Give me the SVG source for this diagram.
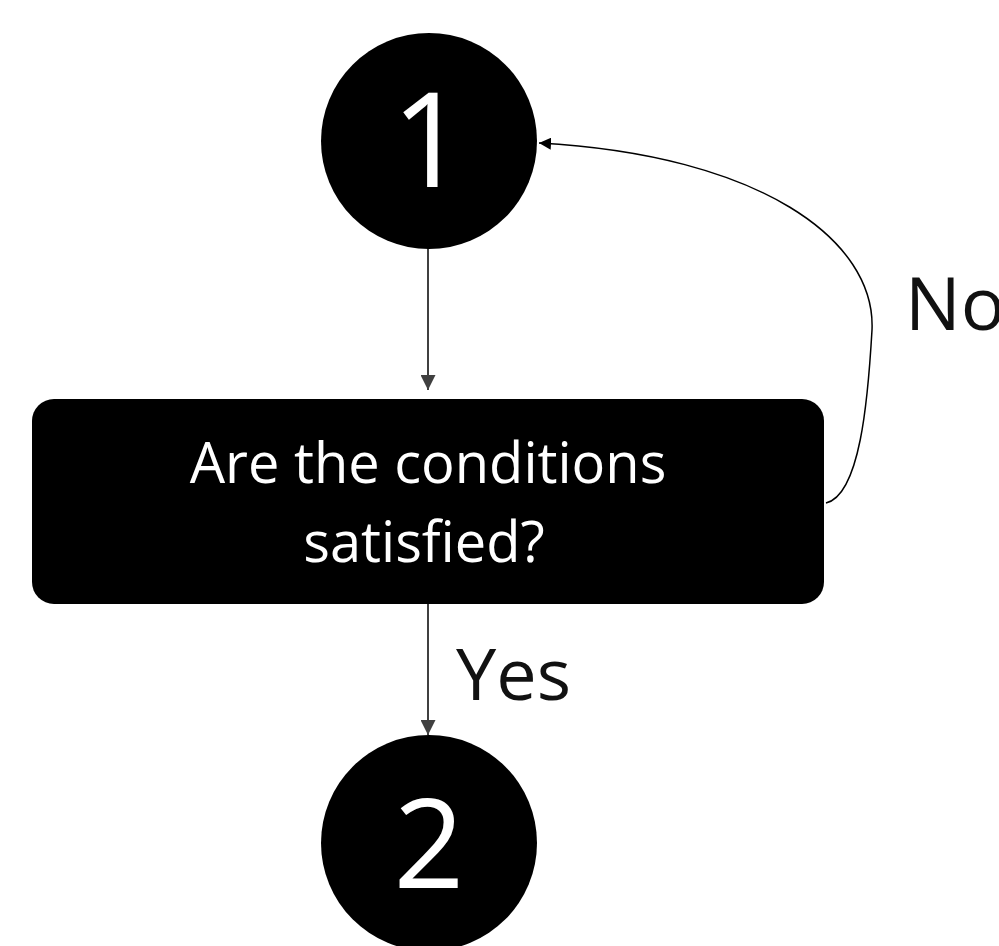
<svg xmlns="http://www.w3.org/2000/svg" width="999" height="946" viewBox="0 0 999 946">
<style>
.node{fill:#000}
.wt{fill:#fff;font-family:"Open Sans","Liberation Sans",sans-serif;text-anchor:middle}
.lbl{fill:#111;font-family:"Open Sans","Liberation Sans",sans-serif}
.edge{fill:none;stroke:#404040;stroke-width:2}
.loop{fill:none;stroke:#000;stroke-width:1.5}
</style>
<defs>
<marker id="ag" viewBox="0 0 10 10" refX="10" refY="5" markerWidth="7.5" markerHeight="7.5" orient="auto" markerUnits="strokeWidth"><path d="M0,0L10,5L0,10z" fill="#404040"/></marker>
<marker id="ab" viewBox="0 0 10 10" refX="10" refY="5" markerWidth="8" markerHeight="8" orient="auto" markerUnits="strokeWidth"><path d="M0,0L10,5L0,10z" fill="#000"/></marker>
</defs>
<rect width="999" height="946" fill="#fff"/>
<g id="connectors">
<line class="edge" x1="428" y1="248" x2="428" y2="390" marker-end="url(#ag)"/>
<line class="edge" x1="428" y1="604" x2="428" y2="735" marker-end="url(#ag)"/>
<path class="loop" d="M826,503 C860,495 868,400 872,330 C876,240 760,155 539,143" marker-end="url(#ab)"/>
<text class="lbl" x="905" y="330" font-size="74">No</text>
<text class="lbl" x="456" y="700" font-size="72">Yes</text>
</g>
<g id="node1">
<circle class="node" cx="429" cy="141" r="108"/>
<text class="wt" x="429" y="187" font-size="131">1</text>
</g>
<g id="decision">
<rect class="node" x="32" y="399" width="792" height="205" rx="22"/>
<text class="wt" x="428" y="483" font-size="56">Are the conditions</text>
<text class="wt" x="424" y="562" font-size="56">satisfied?</text>
</g>
<g id="node2">
<circle class="node" cx="429" cy="843" r="108"/>
<text class="wt" x="429" y="888" font-size="124">2</text>
</g>
</svg>
